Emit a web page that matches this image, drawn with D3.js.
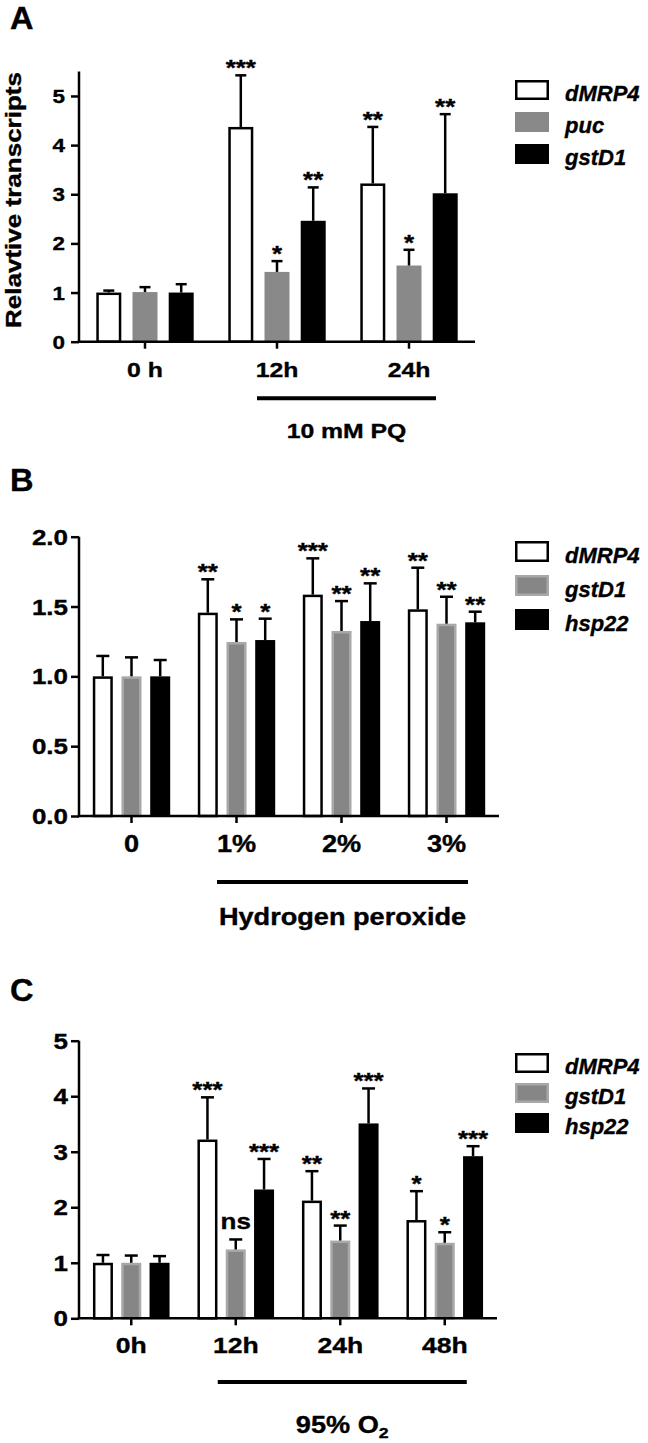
<!DOCTYPE html>
<html><head><meta charset="utf-8">
<script src="https://cdn.jsdelivr.net/npm/d3@7"></script>
<style>
body{margin:0;background:#fff}
svg{display:block}
text{font-family:"Liberation Sans",Arial,Helvetica,sans-serif;font-weight:bold;fill:#000;stroke:#000;stroke-width:0.35px}
</style>
</head><body>
<svg id="chart" width="648" height="1443"></svg>
<script>
// ---------------- DATA ----------------
// Panel A : 10 mM PQ
const categoriesA = ["0 h", "12h", "24h"];
const seriesA = ["dMRP4", "puc", "gstD1"];
const dMRP4A = [1.00, 4.37, 3.22];
const dMRP4A_err = [0.04, 1.05, 1.15];
const dMRP4A_sig = ["", "***", "**"];
const pucA = [1.01, 1.42, 1.55];
const pucA_err = [0.10, 0.22, 0.32];
const pucA_sig = ["", "*", "*"];
const gstD1A = [1.00, 2.46, 3.02];
const gstD1A_err = [0.17, 0.68, 1.61];
const gstD1A_sig = ["", "**", "**"];
const yTicksA = [0, 1, 2, 3, 4, 5];

// Panel B : Hydrogen peroxide
const categoriesB = ["0", "1%", "2%", "3%"];
const seriesB = ["dMRP4", "gstD1", "hsp22"];
const dMRP4B = [1.00, 1.456, 1.585, 1.48];
const dMRP4B_err = [0.146, 0.239, 0.26, 0.298];
const dMRP4B_sig = ["", "**", "***", "**"];
const gstD1B = [1.00, 1.246, 1.325, 1.377];
const gstD1B_err = [0.136, 0.162, 0.214, 0.193];
const gstD1B_sig = ["", "*", "**", "**"];
const hsp22B = [1.00, 1.26, 1.396, 1.387];
const hsp22B_err = [0.117, 0.153, 0.27, 0.076];
const hsp22B_sig = ["", "*", "**", "**"];
const yTicksB = [0, 0.5, 1.0, 1.5, 2.0];

// Panel C : 95% O2
const categoriesC = ["0h", "12h", "24h", "48h"];
const seriesC = ["dMRP4", "gstD1", "hsp22"];
const dMRP4C = [1.00, 3.22, 2.12, 1.77];
const dMRP4C_err = [0.14, 0.76, 0.53, 0.52];
const dMRP4C_sig = ["", "***", "**", "*"];
const gstD1C = [1.00, 1.24, 1.40, 1.36];
const gstD1C_err = [0.13, 0.18, 0.27, 0.19];
const gstD1C_sig = ["", "ns", "**", "*"];
const hsp22C = [1.00, 2.32, 3.51, 2.92];
const hsp22C_err = [0.12, 0.55, 0.63, 0.18];
const hsp22C_sig = ["", "***", "***", "***"];
const yTicksC = [0, 1, 2, 3, 4, 5];

// ---------------- STYLES / LAYOUT ----------------
const SX = 1.18; // horizontal widening of the reference typeface
const styleA = [{fill:"#fff", stroke:"#000"}, {fill:"#898989", stroke:"#898989"}, {fill:"#000", stroke:"#000"}];
const styleBC = [{fill:"#fff", stroke:"#000"}, {fill:"#868686", stroke:"#a8a8a8"}, {fill:"#000", stroke:"#000"}];

const panels = [
  {
    letter: "A", letterY: 29,
    categories: categoriesA, series: seriesA,
    values: [dMRP4A, pucA, gstD1A], errors: [dMRP4A_err, pucA_err, gstD1A_err], sig: [dMRP4A_sig, pucA_sig, gstD1A_sig],
    yTicks: yTicksA, yMax: 5.5, yFmt: d3.format("d"),
    style: styleA,
    L: {x0:79, x1:475, yBot:341.7, yTop:71.4, barW:25, barStep:36.2, capW:11,
        yTickFs:19, yTickDx:-14, xTickFs:21, xTickY:35.5,
        title:"Relavtive transcripts", titleX:21, titleY:200, titleFs:21.5, titleLen:256,
        brL:-20, brR:27, brY:398.3, brLabel:"10 mM PQ", brLabelY:438, brFs:21,
        legX:515, legTop:[80,112,144], legH:20},
  },
  {
    letter: "B", letterY: 491,
    categories: categoriesB, series: seriesB,
    values: [dMRP4B, gstD1B, hsp22B], errors: [dMRP4B_err, gstD1B_err, hsp22B_err], sig: [dMRP4B_sig, gstD1B_sig, hsp22B_sig],
    yTicks: yTicksB, yMax: 2.0, yFmt: d3.format(".1f"),
    style: styleBC,
    L: {x0:79, x1:499, yBot:816, yTop:536.7, barW:20, barStep:28.7, capW:13,
        yTickFs:22, yTickDx:-11, xTickFs:23, xTickY:36,
        brL:-19.5, brR:21.5, brY:882, brLabel:"Hydrogen peroxide", brLabelY:925, brFs:23,
        legX:515, legTop:[541,575,609], legH:21},
  },
  {
    letter: "C", letterY: 1001,
    categories: categoriesC, series: seriesC,
    values: [dMRP4C, gstD1C, hsp22C], errors: [dMRP4C_err, gstD1C_err, hsp22C_err], sig: [dMRP4C_sig, gstD1C_sig, hsp22C_sig],
    yTicks: yTicksC, yMax: 5, yFmt: d3.format("d"),
    style: styleBC,
    L: {x0:79, x1:497, yBot:1318.3, yTop:1040.7, barW:20, barStep:28.3, capW:13,
        yTickFs:22, yTickDx:-11, xTickFs:22.5, xTickY:35,
        brL:-18, brR:22, brY:1382, brLabel:"95% O2", brLabelY:1433, brFs:23,
        legX:515, legTop:[1053,1083,1113], legH:20},
  }
];

const svg = d3.select("#chart");

function widen(sel, sx) {
  sel.each(function() {
    const t = d3.select(this);
    const x = +t.attr("x") || 0, y = +t.attr("y") || 0;
    const prev = t.attr("transform") || "";
    t.attr("x", null).attr("y", null)
     .attr("transform", `${prev} translate(${x},${y}) scale(${sx},1)`);
  });
}

panels.forEach(p => {
  const L = p.L;
  const g = svg.append("g");

  const x = d3.scaleBand().domain(p.categories).range([L.x0, L.x1]);
  const inner = d3.scalePoint().domain(p.series).range([-L.barStep, L.barStep]);
  const y = d3.scaleLinear().domain([0, p.yMax]).range([L.yBot, L.yTop]);
  const cx = c => x(c) + x.bandwidth() / 2;

  // panel letter
  g.append("text").attr("x", 10).attr("y", p.letterY).attr("font-size", 31).text(p.letter)
    .call(s => widen(s, 1.05));

  // bars + error bars + significance
  p.series.forEach((s, si) => {
    const st = p.style[si];
    const rows = p.categories.map((c, i) => ({c, v: p.values[si][i], e: p.errors[si][i], sig: p.sig[si][i]}));
    const bx = d => cx(d.c) + inner(s);
    const sg = g.append("g");
    const inset = st.fill === "#fff" ? 1.25 : (st.stroke !== st.fill ? 1.25 : 0);
    sg.selectAll("rect").data(rows).join("rect")
      .attr("x", d => bx(d) - L.barW / 2 + inset)
      .attr("width", L.barW - 2 * inset)
      .attr("y", d => y(d.v) + inset)
      .attr("height", d => y(0) - y(d.v) - inset)
      .attr("fill", st.fill)
      .attr("stroke", st.stroke)
      .attr("stroke-width", inset > 0 ? 2.5 : 0);
    sg.selectAll("line.err").data(rows).join("line").attr("class", "err")
      .attr("x1", bx).attr("x2", bx)
      .attr("y1", d => y(d.v)).attr("y2", d => y(d.v + d.e))
      .attr("stroke", "#000").attr("stroke-width", 2.5);
    sg.selectAll("line.cap").data(rows).join("line").attr("class", "cap")
      .attr("x1", d => bx(d) - L.capW / 2).attr("x2", d => bx(d) + L.capW / 2)
      .attr("y1", d => y(d.v + d.e)).attr("y2", d => y(d.v + d.e))
      .attr("stroke", "#000").attr("stroke-width", 2.5);
    sg.selectAll("text.sig").data(rows.filter(d => d.sig)).join("text").attr("class", "sig")
      .attr("x", bx)
      .attr("y", d => y(d.v + d.e) - (d.sig === "ns" ? 10.5 : 0))
      .attr("text-anchor", "middle")
      .attr("font-size", 22)
      .text(d => d.sig)
      .call(s => widen(s, SX));
  });

  // axes
  const yAxis = d3.axisLeft(y).tickValues(p.yTicks).tickFormat(p.yFmt).tickSize(8).tickSizeOuter(0).tickPadding(0);
  const ya = g.append("g").attr("transform", `translate(${L.x0},0)`).call(yAxis);
  const xAxis = d3.axisBottom(x).tickSize(7).tickSizeOuter(0);
  const xa = g.append("g").attr("transform", `translate(0,${L.yBot})`).call(xAxis);
  [ya, xa].forEach(a => {
    a.attr("font-family", null).attr("font-size", null);
    a.select(".domain").attr("stroke", "#000").attr("stroke-width", 2.5);
    a.selectAll(".tick line").attr("stroke", "#000").attr("stroke-width", 2.5);
    a.selectAll("text").attr("fill", "#000");
  });
  xa.select(".domain").attr("d", `M${L.x0 - 1.25},0H${L.x1}`);
  ya.select(".domain").attr("d", `M0,${L.yBot}V${L.yTop}`);
  ya.selectAll(".tick text").attr("font-size", L.yTickFs).attr("x", L.yTickDx).attr("dy", "0.34em")
    .call(s => widen(s, SX));
  xa.selectAll(".tick text").attr("font-size", L.xTickFs).attr("y", L.xTickY).attr("dy", 0)
    .call(s => widen(s, SX));

  // y-axis title
  if (L.title) {
    g.append("text")
      .attr("transform", `translate(${L.titleX},${L.titleY}) rotate(-90)`)
      .attr("text-anchor", "middle").attr("font-size", L.titleFs)
      .attr("textLength", L.titleLen).attr("lengthAdjust", "spacingAndGlyphs")
      .text(L.title);
  }

  // treatment bracket
  const cats = p.categories;
  const bl = cx(cats[1]) + L.brL, br = cx(cats[cats.length - 1]) + L.brR;
  g.append("line").attr("x1", bl).attr("x2", br).attr("y1", L.brY).attr("y2", L.brY)
    .attr("stroke", "#000").attr("stroke-width", 4);
  const bt = g.append("text").attr("x", (bl + br) / 2).attr("y", L.brLabelY)
    .attr("text-anchor", "middle").attr("font-size", L.brFs);
  if (L.brLabel === "95% O2") {
    bt.append("tspan").text("95% O");
    bt.append("tspan").attr("font-size", 15).attr("dy", 5).text("2");
  } else {
    bt.text(L.brLabel);
  }
  widen(bt, SX);

  // legend
  p.series.forEach((s, si) => {
    const st = p.style[si];
    const top = L.legTop[si];
    const hasBorder = st.stroke !== st.fill || st.fill === "#fff";
    const ins = hasBorder ? 1.25 : 0;
    g.append("rect").attr("x", L.legX + ins).attr("y", top + ins)
      .attr("width", 34 - 2 * ins).attr("height", L.legH - 2 * ins)
      .attr("fill", st.fill).attr("stroke", st.stroke).attr("stroke-width", hasBorder ? 2.5 : 0);
    g.append("text").attr("x", L.legX + 50).attr("y", top + L.legH + 0.5)
      .attr("font-size", 22).attr("font-style", "italic").text(s);
  });
});
</script>
</body></html>
